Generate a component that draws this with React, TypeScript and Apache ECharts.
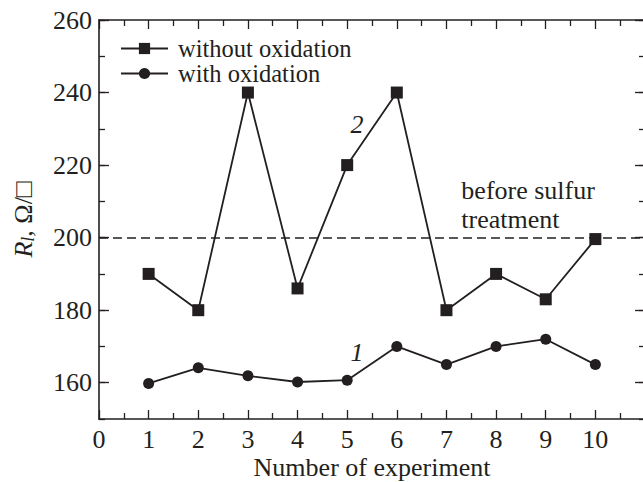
import React, { useEffect, useRef } from "react";
import * as echarts from "echarts";

const experiments = [1, 2, 3, 4, 5, 6, 7, 8, 9, 10];
const withoutOxidation = [190, 180, 240, 186, 220, 240, 180, 190, 183, 199.6];
const withOxidation = [159.8, 164.1, 161.9, 160.2, 160.7, 170, 165, 170, 172, 165];
const beforeTreatment = 200;
const yMajorTicks = [160, 180, 200, 220, 240, 260];
const seriesNames = ["without oxidation", "with oxidation"];

const INK = "#231f20";
const FONT = "Liberation Serif";
const FS = 26;

export default function App() {
  const ref = useRef<HTMLDivElement>(null);
  useEffect(() => {
    if (!ref.current) return;
    const chart = echarts.init(ref.current, null, { renderer: "svg" });
    const baseY = {
      type: "value",
      min: 150,
      max: 260,
      interval: 10,
      splitLine: { show: false },
    };
    const xBase = {
      type: "value",
      min: 0,
      max: 11,
      interval: 1,
      splitLine: { show: false },
      axisLine: { show: true, lineStyle: { color: INK, width: 1.6 } },
      axisTick: { show: true, inside: true, length: 9, lineStyle: { color: INK, width: 1.3 } },
      minorTick: { show: true, splitNumber: 2, length: 6, lineStyle: { color: INK, width: 1.3 } },
      minorSplitLine: { show: false },
    };
    chart.setOption({
      animation: false,
      backgroundColor: "#fff",
      textStyle: { fontFamily: FONT },
      grid: { left: 99, top: 20, right: -2, bottom: 63, containLabel: false, outerBoundsMode: "none" },
      legend: {
        show: true,
        orient: "vertical",
        left: 115,
        top: 31,
        itemWidth: 47,
        itemHeight: 14,
        itemGap: 0,
        data: seriesNames,
        textStyle: { fontFamily: FONT, fontSize: 24.5, color: INK, padding: [0, 0, 0, 5] },
      },
      xAxis: [
        {
          ...xBase,
          position: "bottom",
          name: "Number of experiment",
          nameLocation: "middle",
          nameGap: 37,
          nameMoveOverlap: false,
          nameTextStyle: { fontFamily: FONT, fontSize: FS, lineHeight: 22, color: INK, verticalAlign: "top" },
          axisLabel: {
            show: true,
            margin: 8,
            fontFamily: FONT,
            fontSize: FS,
            lineHeight: 24,
            color: INK,
            formatter: (v: number) => (v > 10 ? "" : String(v)),
          },
        },
        {
          ...xBase,
          position: "top",
          axisLabel: { show: false },
        },
      ],
      yAxis: [
        {
          ...baseY,
          position: "left",
          axisLine: { show: true, lineStyle: { color: INK, width: 1.6 } },
          axisTick: { show: true, inside: true, length: 6, lineStyle: { color: INK, width: 1.3 } },
          axisLabel: { show: false },
        },
        {
          ...baseY,
          position: "left",
          axisLine: { show: false },
          axisTick: {
            show: true,
            inside: true,
            length: 10,
            customValues: yMajorTicks,
            lineStyle: { color: INK, width: 1.3 },
          },
          axisLabel: {
            show: true,
            customValues: yMajorTicks,
            margin: 7,
            fontFamily: FONT,
            fontSize: FS,
            color: INK,
            formatter: (v: number) => (v % 20 === 0 && v >= 160 ? String(v) : ""),
          },
          name: "{i|R}{s|l}{n|, Ω/□}",
          nameLocation: "middle",
          nameGap: 62,
          nameRotate: 90,
          nameTextStyle: {
            fontFamily: FONT,
            fontSize: FS,
            color: INK,
            rich: {
              i: { fontFamily: FONT, fontSize: FS, fontStyle: "italic", color: INK },
              s: { fontFamily: FONT, fontSize: 18, fontStyle: "italic", color: INK, verticalAlign: "bottom", padding: [10, 0, 0, 0] },
              n: { fontFamily: FONT, fontSize: FS, color: INK },
            },
          },
        },
        {
          ...baseY,
          position: "right",
          axisLine: { show: true, lineStyle: { color: INK, width: 1.6 } },
          axisTick: { show: true, inside: true, length: 6, lineStyle: { color: INK, width: 1.3 } },
          axisLabel: { show: false },
        },
        {
          ...baseY,
          position: "right",
          axisLine: { show: false },
          axisTick: {
            show: true,
            inside: true,
            length: 10,
            customValues: yMajorTicks,
            lineStyle: { color: INK, width: 1.3 },
          },
          axisLabel: { show: false },
        },
      ],
      series: [
        {
          name: seriesNames[0],
          type: "line",
          xAxisIndex: 0,
          yAxisIndex: 0,
          data: experiments.map((x, i) => [x, withoutOxidation[i]]),
          symbol: "rect",
          symbolSize: 12,
          color: INK,
          itemStyle: { color: INK },
          lineStyle: { color: INK, width: 1.8 },
          markLine: {
            silent: true,
            symbol: "none",
            label: { show: false },
            lineStyle: { color: INK, width: 1.5, type: [9, 5] },
            data: [{ yAxis: beforeTreatment }],
          },
          markPoint: {
            symbol: "circle",
            symbolSize: 0,
            data: [
              {
                coord: [5.2, 231.2],
                label: { show: true, formatter: "2", fontFamily: FONT, fontSize: FS, fontStyle: "italic", color: INK, position: "inside" },
              },
              {
                coord: [7.3, 209],
                label: {
                  show: true,
                  formatter: "before sulfur\ntreatment",
                  fontFamily: FONT,
                  fontSize: FS,
                  lineHeight: 29,
                  color: INK,
                  position: "right",
                  distance: 0,
                  align: "left",
                },
              },
            ],
          },
        },
        {
          name: seriesNames[1],
          type: "line",
          xAxisIndex: 0,
          yAxisIndex: 0,
          data: experiments.map((x, i) => [x, withOxidation[i]]),
          symbol: "circle",
          symbolSize: 11,
          color: INK,
          itemStyle: { color: INK },
          lineStyle: { color: INK, width: 1.8 },
          markPoint: {
            symbol: "circle",
            symbolSize: 0,
            data: [
              {
                coord: [5.2, 168.2],
                label: { show: true, formatter: "1", fontFamily: FONT, fontSize: FS, fontStyle: "italic", color: INK, position: "inside" },
              },
            ],
          },
        },
      ],
    });
    return () => chart.dispose();
  }, []);
  return <div ref={ref} style={{ width: 643, height: 482, position: "absolute", left: 0, top: 0 }} />;
}
